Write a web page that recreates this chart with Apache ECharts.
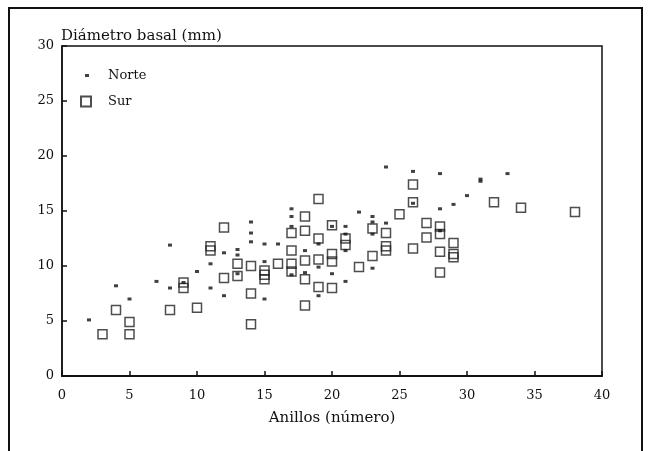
<!DOCTYPE html>
<html>
<head>
<meta charset="utf-8">
<script src="https://cdn.jsdelivr.net/npm/echarts@6/dist/echarts.min.js"></script>
<style>
  html, body { margin: 0; padding: 0; background: #fff; }
  #chart { width: 651px; height: 451px; }
</style>
</head>
<body>
<div id="chart"></div>
<script>
// Anillos (número) vs Diámetro basal (mm), two sites
const norteAnillos = [2, 4, 5, 7, 8, 8, 9, 10, 11, 11, 12, 12, 13, 13, 13, 14, 14, 14, 15, 15, 15, 16,
  17, 17, 17, 17, 18, 18, 19, 19, 19, 20, 20, 21, 21, 21, 21, 22, 23, 23, 23, 23, 24, 24,
  26, 26, 28, 28, 28, 29, 30, 31, 31, 33];
const norteDiametro = [5.1, 8.2, 7.0, 8.6, 11.9, 8.0, 8.5, 9.5, 10.2, 8.0, 11.2, 7.3, 11.5, 11.0, 9.3,
  14.0, 13.0, 12.2, 12.0, 10.4, 7.0, 12.0, 15.2, 14.5, 13.6, 9.2, 11.4, 9.4, 12.0, 9.9, 7.3,
  13.6, 9.3, 13.6, 12.9, 11.4, 8.6, 14.9, 14.5, 14.0, 12.9, 9.8, 19.0, 13.9,
  18.6, 15.7, 18.4, 15.2, 13.2, 15.6, 16.4, 17.9, 17.7, 18.4];

const surAnillos = [3, 4, 5, 5, 8, 9, 9, 10, 11, 11, 12, 12, 13, 13, 14, 14, 14, 15, 15, 15, 16,
  17, 17, 17, 17, 18, 18, 18, 18, 18, 19, 19, 19, 19, 20, 20, 20, 20, 21, 21, 22, 23, 23,
  24, 24, 24, 25, 26, 26, 26, 27, 27, 28, 28, 28, 28, 29, 29, 29, 32, 34, 38];
const surDiametro = [3.8, 6.0, 4.9, 3.8, 6.0, 8.5, 8.0, 6.2, 11.8, 11.4, 13.5, 8.9, 10.2, 9.1, 10.0, 7.5, 4.7,
  9.6, 9.2, 8.8, 10.2, 13.0, 11.4, 10.2, 9.5, 14.5, 13.2, 10.5, 8.8, 6.4, 16.1, 12.5, 10.6, 8.1,
  13.7, 11.1, 10.4, 8.0, 12.5, 11.9, 9.9, 13.4, 10.9, 13.0, 11.8, 11.4, 14.7, 17.4, 15.8, 11.6,
  13.9, 12.6, 13.6, 12.9, 11.3, 9.4, 12.1, 11.1, 10.8, 15.8, 15.3, 14.9];

const xTicks = [0, 5, 10, 15, 20, 25, 30, 35, 40];
const yTicks = [0, 5, 10, 15, 20, 25, 30];

const pairs = (xs, ys) => xs.map((x, i) => [x, ys[i]]);
const FONT = 'DejaVu Serif';

const chart = echarts.init(document.getElementById('chart'), null, { renderer: 'canvas' });
chart.setOption({
  backgroundColor: '#ffffff',
  animation: false,
  title: {
    text: 'Diámetro basal (mm)',
    left: 61, top: 29, padding: 0,
    textStyle: { fontFamily: FONT, fontSize: 15, fontWeight: 'normal', color: '#111' }
  },
  grid: {
    left: 62, top: 46, width: 540, height: 330,
    show: true, borderColor: '#111', borderWidth: 1.5, backgroundColor: 'transparent'
  },
  legend: [
    {
      left: 80, top: 64, itemWidth: 4, itemHeight: 3,
      data: [{ name: 'Norte', icon: 'rect' }],
      textStyle: { fontFamily: FONT, fontSize: 13, color: '#111', padding: [0, 0, 0, 14] }
    },
    {
      left: 75, top: 90, itemWidth: 10, itemHeight: 10,
      data: [{ name: 'Sur', icon: 'rect' }],
      textStyle: { fontFamily: FONT, fontSize: 13, color: '#111', padding: [0, 0, 0, 12] }
    }
  ],
  xAxis: {
    type: 'value', min: xTicks[0], max: xTicks[xTicks.length - 1], interval: 5,
    name: 'Anillos (número)', nameLocation: 'middle', nameGap: 35,
    nameTextStyle: { fontFamily: FONT, fontSize: 15, color: '#111' },
    axisLine: { lineStyle: { color: '#111', width: 2 } },
    axisTick: { inside: true, length: 5, lineStyle: { color: '#111', width: 1.5 } },
    axisLabel: { fontFamily: FONT, fontSize: 13, color: '#111', margin: 13 },
    splitLine: { show: false }
  },
  yAxis: {
    type: 'value', min: yTicks[0], max: yTicks[yTicks.length - 1], interval: 5,
    axisLine: { show: true, lineStyle: { color: '#111', width: 1.5 } },
    axisTick: { show: true, inside: true, length: 5, lineStyle: { color: '#111', width: 1.5 } },
    axisLabel: { fontFamily: FONT, fontSize: 13, color: '#111', margin: 8 },
    splitLine: { show: false }
  },
  series: [
    {
      name: 'Norte', type: 'scatter', symbol: 'rect', symbolSize: [4, 3],
      itemStyle: { color: '#111' },
      data: pairs(norteAnillos, norteDiametro), z: 3
    },
    {
      name: 'Sur', type: 'scatter', symbol: 'rect', symbolSize: 9,
      itemStyle: { color: 'rgba(0,0,0,0)', borderColor: '#222', borderWidth: 1.5 },
      data: pairs(surAnillos, surDiametro), z: 2
    }
  ],
  graphic: [
    {
      type: 'rect', silent: true,
      shape: { x: 9, y: 8, width: 633, height: 470 },
      style: { fill: 'none', stroke: '#111', lineWidth: 2 }
    }
  ]
});
</script>
</body>
</html>
